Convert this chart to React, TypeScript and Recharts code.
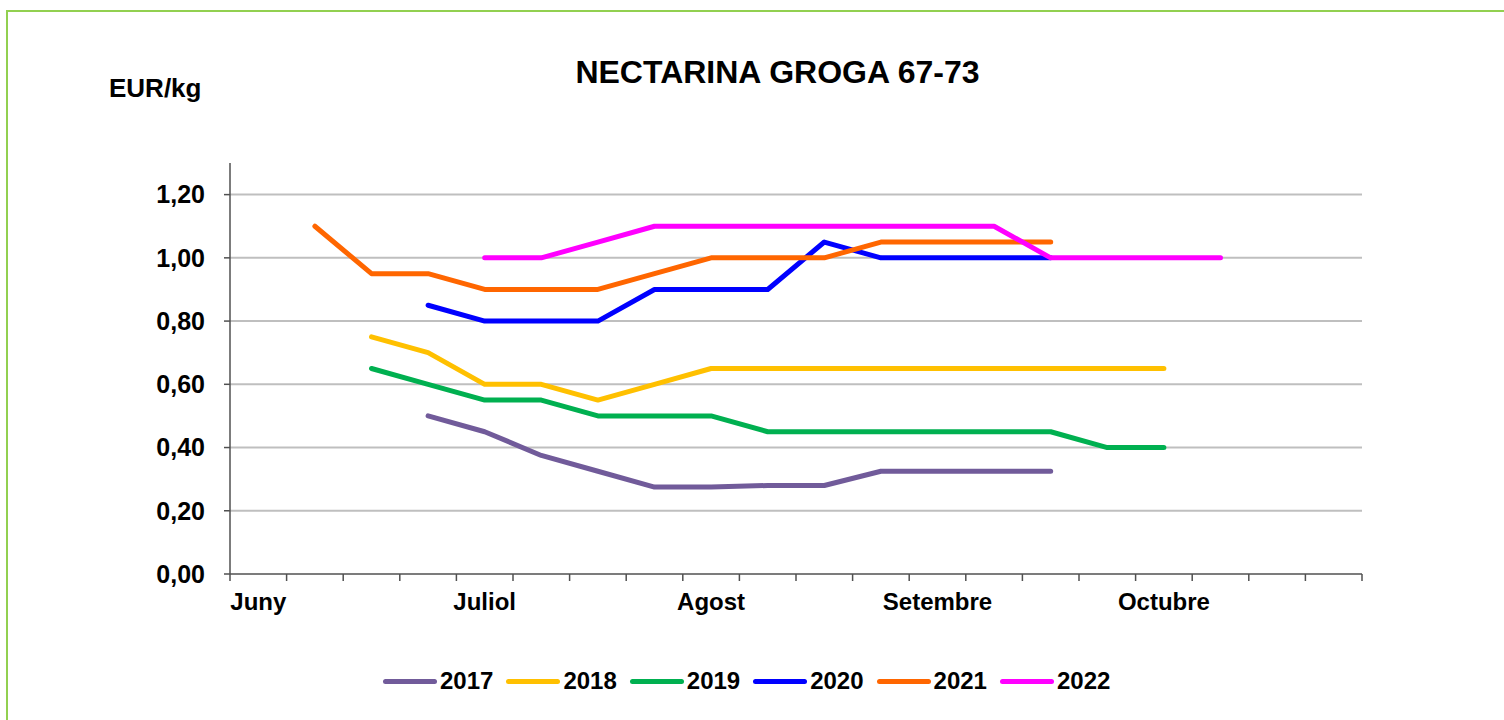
import React from 'react';
import { LineChart, Line, XAxis, YAxis, CartesianGrid } from 'recharts';

// setmanes de campanya (20 posicions a l'eix X)
const weeks = Array.from({ length: 20 }, (_, i) => i);
const monthLabels = ['Juny', 'Juliol', 'Agost', 'Setembre', 'Octubre'];
const monthWeeks = [0, 4, 8, 12, 16];
const yTicks = [0, 0.2, 0.4, 0.6, 0.8, 1.0, 1.2];

const years = ['2017', '2018', '2019', '2020', '2021', '2022'];
const colors = ['#715B9A', '#FFC000', '#00B050', '#0000FF', '#FF6600', '#FF00FF'];

const s2017 = [null, null, null, 0.5, 0.45, 0.375, 0.325, 0.275, 0.275, 0.28, 0.28, 0.325, 0.325, 0.325, 0.325, null, null, null, null, null];
const s2018 = [null, null, 0.75, 0.7, 0.6, 0.6, 0.55, 0.6, 0.65, 0.65, 0.65, 0.65, 0.65, 0.65, 0.65, 0.65, 0.65, null, null, null];
const s2019 = [null, null, 0.65, 0.6, 0.55, 0.55, 0.5, 0.5, 0.5, 0.45, 0.45, 0.45, 0.45, 0.45, 0.45, 0.4, 0.4, null, null, null];
const s2020 = [null, null, null, 0.85, 0.8, 0.8, 0.8, 0.9, 0.9, 0.9, 1.05, 1.0, 1.0, 1.0, 1.0, null, null, null, null, null];
const s2021 = [null, 1.1, 0.95, 0.95, 0.9, 0.9, 0.9, 0.95, 1.0, 1.0, 1.0, 1.05, 1.05, 1.05, 1.05, null, null, null, null, null];
const s2022 = [null, null, null, null, 1.0, 1.0, 1.05, 1.1, 1.1, 1.1, 1.1, 1.1, 1.1, 1.1, 1.0, 1.0, 1.0, 1.0, null, null];
const seriesValues = [s2017, s2018, s2019, s2020, s2021, s2022];

const FONT = '"Liberation Sans", Arial, sans-serif';
const PLOT_LEFT = 230;
const PLOT_RIGHT = 1362;
const BAND = (PLOT_RIGHT - PLOT_LEFT) / weeks.length;

const data = weeks.map((w) => {
  const row: Record<string, number | null> = { x: w + 0.5 };
  years.forEach((y, k) => {
    row[y] = seriesValues[k][w];
  });
  return row;
});

const MonthTick = (props: any) => {
  const { x, y, payload } = props;
  const idx = monthWeeks.indexOf(payload.value);
  if (idx < 0) return <g />;
  return (
    <text
      x={x + BAND / 2}
      y={y}
      dy={27}
      textAnchor="middle"
      fontSize={24}
      fontWeight="bold"
      fontFamily={FONT}
      fill="#000"
    >
      {monthLabels[idx]}
    </text>
  );
};

export default function App() {
  return (
    <div
      style={{
        position: 'absolute',
        left: 0,
        top: 0,
        width: 1504,
        height: 720,
        overflow: 'hidden',
        background: '#fff',
        fontFamily: FONT,
      }}
    >
      <div
        style={{
          position: 'absolute',
          left: 6,
          top: 10,
          width: 1700,
          height: 900,
          borderTop: '2.5px solid #92D050',
          borderLeft: '2.5px solid #92D050',
        }}
      />
      <div
        style={{
          position: 'absolute',
          left: 0,
          width: 1555,
          top: 56,
          textAlign: 'center',
          fontSize: 32,
          lineHeight: '32px',
          fontWeight: 'bold',
          color: '#000',
        }}
      >
        NECTARINA GROGA 67-73
      </div>
      <div
        style={{
          position: 'absolute',
          left: 109,
          top: 75,
          fontSize: 26,
          lineHeight: '26px',
          fontWeight: 'bold',
          color: '#000',
        }}
      >
        EUR/kg
      </div>

      <div style={{ position: 'absolute', left: 0, top: 0 }}>
        <LineChart
          width={1504}
          height={720}
          data={data}
          margin={{ top: 163, right: 1504 - PLOT_RIGHT, bottom: 106, left: 0 }}
        >
          <CartesianGrid
            horizontal
            vertical={false}
            horizontalValues={yTicks.slice(1)}
            stroke="#BFBFBF"
            strokeWidth={2}
          />
          <XAxis
            dataKey="x"
            type="number"
            domain={[0, 20]}
            ticks={Array.from({ length: 21 }, (_, i) => i)}
            interval={0}
            height={40}
            tick={<MonthTick />}
            tickSize={7}
            tickMargin={2}
            axisLine={{ stroke: '#505050', strokeWidth: 1.5 }}
            tickLine={{ stroke: '#505050', strokeWidth: 1.5 }}
          />
          <YAxis
            type="number"
            domain={[0, 1.3]}
            ticks={yTicks}
            interval={0}
            width={PLOT_LEFT}
            tickSize={6}
            tickMargin={19}
            tickFormatter={(v: number) => v.toFixed(2).replace('.', ',')}
            tick={{ fontSize: 25, fontWeight: 'bold', fill: '#000', fontFamily: FONT }}
            axisLine={{ stroke: '#505050', strokeWidth: 1.5 }}
            tickLine={{ stroke: '#505050', strokeWidth: 1.5 }}
          />
          {years.map((y, k) => (
            <Line
              key={y}
              type="linear"
              dataKey={y}
              stroke={colors[k]}
              strokeWidth={5}
              strokeLinecap="round"
              strokeLinejoin="round"
              dot={false}
              activeDot={false}
              connectNulls={false}
              isAnimationActive={false}
            />
          ))}
        </LineChart>
      </div>

      <div
        style={{
          position: 'absolute',
          left: 383,
          top: 667,
          display: 'flex',
          alignItems: 'center',
          height: 28,
        }}
      >
        {years.map((y, k) => (
          <div key={y} style={{ display: 'flex', alignItems: 'center', marginRight: 13 }}>
            <div
              style={{
                width: 54,
                height: 5,
                borderRadius: 3,
                background: colors[k],
                marginRight: 3,
              }}
            />
            <span style={{ fontSize: 24, fontWeight: 'bold', color: '#000', lineHeight: '28px' }}>{y}</span>
          </div>
        ))}
      </div>
    </div>
  );
}
